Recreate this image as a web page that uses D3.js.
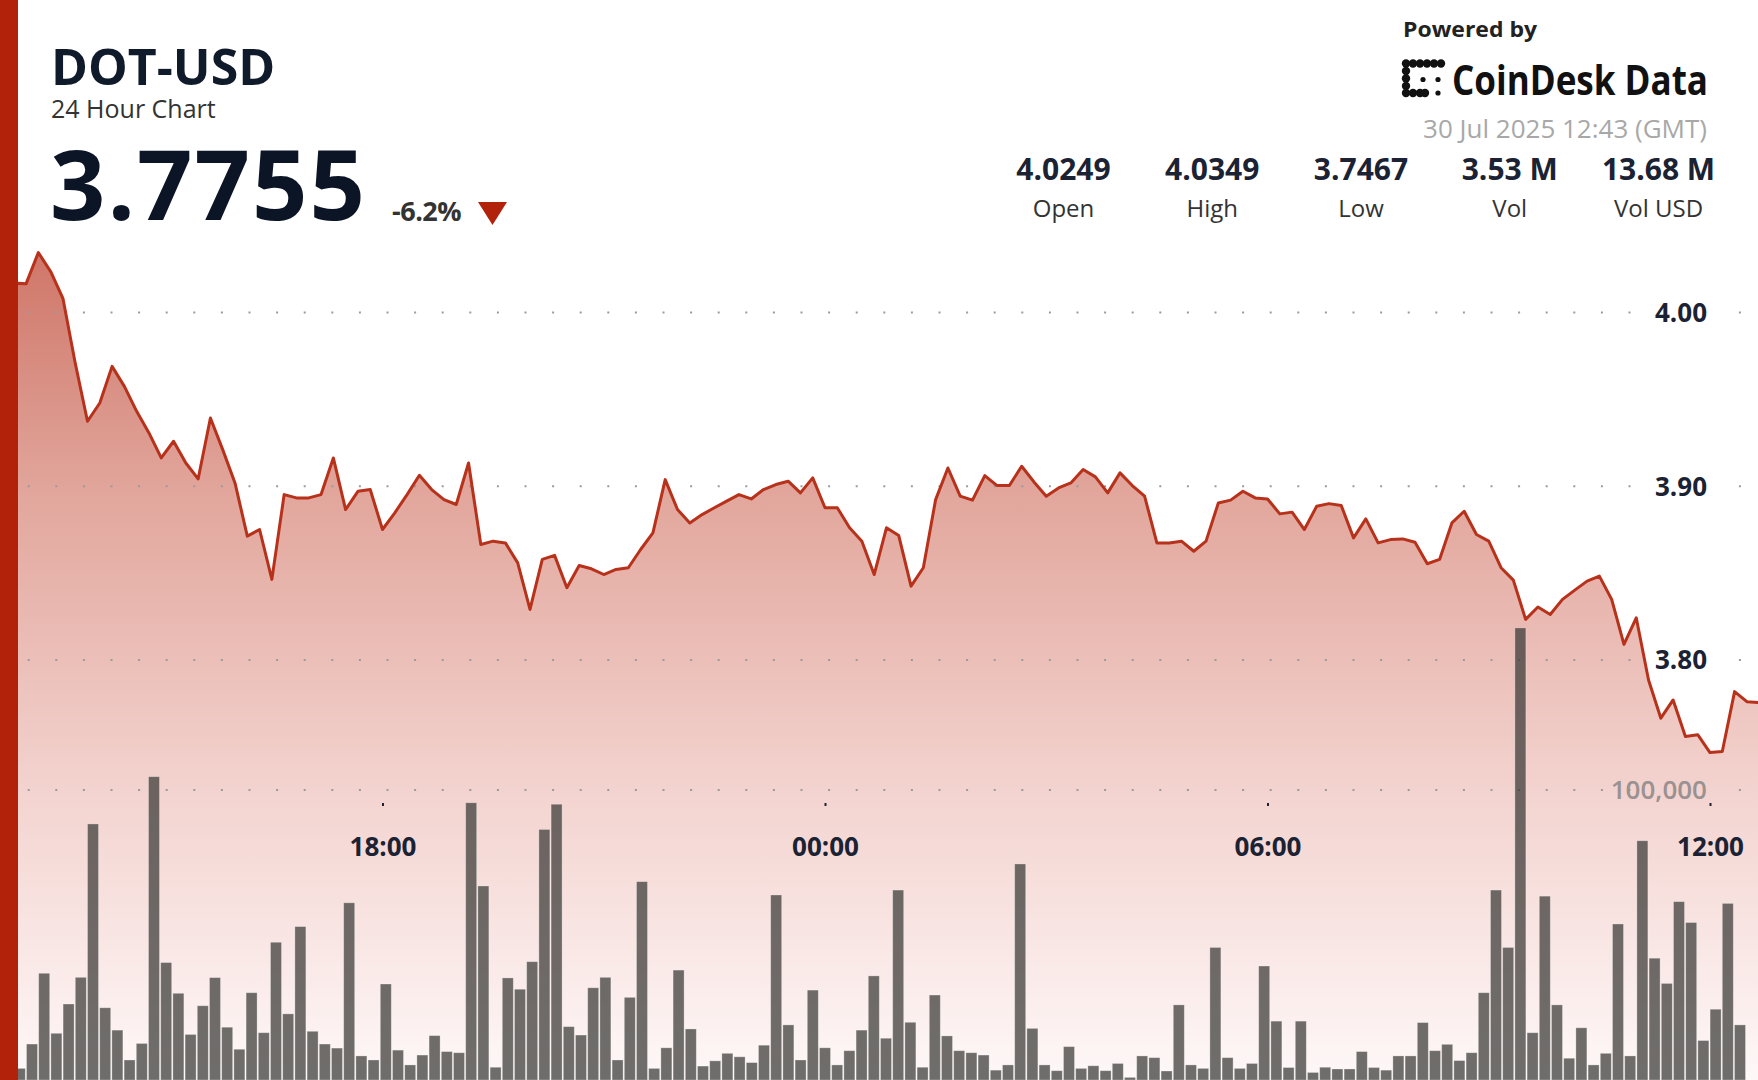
<!DOCTYPE html>
<html><head><meta charset="utf-8">
<script src="https://cdn.jsdelivr.net/npm/d3@7"></script>
<style>html,body{margin:0;padding:0;background:#fff;overflow:hidden}svg{display:block;font-family:"Open Sans","Noto Sans",sans-serif}</style>
</head><body><svg id="c" width="1758" height="1080"></svg>
<script>
// ---------- DATA ----------
const startTime = "2025-07-29T13:00:00Z";   // first sample, 10-minute steps
const stepMinutes = 10;
const prices = [
4.0169,4.0165,4.0345,4.0236,4.0082,3.9709,3.9374,3.9479,3.9690,3.9575,3.9431,3.9307,
3.9163,3.9259,3.9134,3.9042,3.9393,3.9211,3.9019,3.8713,3.8751,3.8464,3.8952,3.8933,
3.8933,3.8952,3.9163,3.8866,3.8971,3.8981,3.8751,3.8847,3.8952,3.9063,3.8981,3.8923,
3.8895,3.9134,3.8665,3.8684,3.8674,3.8559,3.8291,3.8579,3.8602,3.8416,3.8544,3.8525,
3.8492,3.8521,3.8531,3.8636,3.8732,3.9038,3.8866,3.8789,3.8837,3.8876,3.8914,3.8952,
3.8927,3.8981,3.9010,3.9029,3.8962,3.9048,3.8876,3.8876,3.8761,3.8684,3.8492,3.8761,
3.8716,3.8425,3.8531,3.8923,3.9105,3.8943,3.8920,3.9061,3.9004,3.9004,3.9115,3.9025,
3.8943,3.8990,3.9019,3.9096,3.9054,3.8962,3.9077,3.9004,3.8943,3.8674,3.8674,3.8684,
3.8626,3.8684,3.8904,3.8920,3.8971,3.8933,3.8927,3.8841,3.8851,3.8751,3.8885,3.8900,
3.8889,3.8703,3.8812,3.8674,3.8693,3.8697,3.8678,3.8554,3.8579,3.8789,3.8856,3.8722,
3.8684,3.8531,3.8460,3.8234,3.8305,3.8262,3.8349,3.8402,3.8454,3.8483,3.8349,3.8090,
3.8243,3.7885,3.7665,3.7770,3.7560,3.7570,3.7467,3.7473,3.7818,3.7760,3.7755];
// one volume bar per 10-minute slot, 13:00 .. 12:30
const volumes = [
4000,12400,36800,16100,26200,35400,88300,24900,17200,6900,12600,104600,
40500,29900,15700,25600,35300,18200,10600,30100,16300,47500,22800,52900,
16800,12400,11000,61100,8300,6900,33100,10300,5200,8600,15300,9800,
9400,95600,66900,4400,35200,31300,40800,86400,95100,18400,15500,31800,
35400,6900,28500,68400,4000,11100,37900,17600,4800,6600,9200,8000,
6000,12000,63800,19000,6900,31000,11100,5200,10100,17200,35900,14400,
65500,19900,4400,29300,15200,10100,9400,8600,3400,5200,74500,17800,
5200,3200,11500,4000,4900,3200,5700,900,8300,7700,3100,25900,
5200,4000,45700,7700,4000,5700,39300,20300,4300,20300,2600,4400,
3800,3800,9800,4300,3400,8300,8300,19800,10100,12300,6700,9400,
30100,65500,45700,155900,16300,63400,25900,7500,18000,5200,9200,53800,
8300,82500,42000,33300,61500,54300,13600,24400,60900,19000];
const priceTicks = [4.00, 3.90, 3.80];
const volumeTicks = [100000];
const timeTicks = ["2025-07-29T18:00:00Z","2025-07-30T00:00:00Z","2025-07-30T06:00:00Z","2025-07-30T12:00:00Z"];
const statValues = ["4.0249","4.0349","3.7467","3.53 M","13.68 M"];
const statLabels = ["Open","High","Low","Vol","Vol USD"];
const symbol = "DOT-USD";
const subtitle = "24 Hour Chart";
const lastPrice = "3.7755";
const changePct = "-6.2%";
const stamp = "30 Jul 2025 12:43 (GMT)";

// ---------- SETUP ----------
const W = 1758, H = 1080;
const svg = d3.select("#c");
const t0 = new Date(startTime).getTime();
const tOf = i => new Date(t0 + i * stepMinutes * 60000);
const pData = prices.map((p, i) => ({t: tOf(i), p}));
const vData = volumes.map((v, i) => ({k: tOf(i).toISOString(), v}));

const x = d3.scaleUtc()
  .domain([new Date("2025-07-29T18:00:00Z"), new Date("2025-07-30T12:00:00Z")])
  .range([382.5, 1710]);
const y = d3.scaleLinear().domain([3.80, 4.00]).range([660, 312.5]);
const yv = d3.scaleLinear().domain([0, 100000]).range([H, 790]);
const barStep = 12.2, barPad = 0.1, barStart = 14.3 - barStep * barPad / 2;
const xb = d3.scaleBand().domain(vData.map(d => d.k))
  .range([barStart, barStart + barStep * vData.length])
  .paddingInner(barPad).paddingOuter(barPad / 2);

const defs = svg.append("defs");
const grad = defs.append("linearGradient").attr("id", "ag")
  .attr("gradientUnits", "userSpaceOnUse").attr("x1", 0).attr("y1", 250).attr("x2", 0).attr("y2", H);
[[0, "rgb(207,118,104)"], [0.3, "rgb(226,167,157)"], [0.65, "rgb(243,211,207)"], [1, "rgb(254,248,248)"]]
  .forEach(([o, c]) => grad.append("stop").attr("offset", o).attr("stop-color", c));
defs.append("clipPath").attr("id", "cp").append("rect").attr("x", 18).attr("y", 0).attr("width", W).attr("height", H);

const chart = svg.append("g").attr("clip-path", "url(#cp)");

// area
chart.append("path").datum(pData)
  .attr("fill", "url(#ag)")
  .attr("d", d3.area().x(d => x(d.t)).y0(H).y1(d => y(d.p)));

// dotted gridlines
const dotXs = d3.range(28.7, W, 27.6).filter(v => v < 1645 || v > 1735);
const gridYs = priceTicks.map(v => y(v)).concat(volumeTicks.map(v => yv(v)));
gridYs.forEach(gy => {
  chart.append("g").selectAll("rect").data(dotXs).join("rect")
    .attr("x", d => d - 1).attr("y", gy - 1).attr("width", 2).attr("height", 2)
    .attr("fill", "#9b9b9b");
});

// volume bars
chart.append("g").selectAll("rect").data(vData).join("rect")
  .attr("x", d => xb(d.k))
  .attr("width", xb.bandwidth())
  .attr("y", d => yv(d.v))
  .attr("height", d => H - yv(d.v))
  .attr("fill", "rgba(55,55,52,0.72)")
  .attr("stroke", "rgba(255,255,255,0.35)").attr("stroke-width", 0.8);

// price line
chart.append("path").datum(pData)
  .attr("fill", "none").attr("stroke", "#b8311b").attr("stroke-width", 3)
  .attr("stroke-linejoin", "round")
  .attr("d", d3.line().x(d => x(d.t)).y(d => y(d.p)));

// y labels
svg.append("g").selectAll("text").data(priceTicks).join("text")
  .attr("x", 1707).attr("y", d => y(d)).attr("dy", "0.36em")
  .attr("text-anchor", "end").attr("font-size", 26).attr("font-weight", 700)
  .attr("fill", "#1a2233").text(d => d.toFixed(2));
svg.append("g").selectAll("text").data(volumeTicks).join("text")
  .attr("x", 1707).attr("y", d => yv(d)).attr("dy", "0.36em")
  .attr("text-anchor", "end").attr("font-size", 26).attr("font-weight", 600)
  .attr("fill", "#9a9190").text(d => d3.format(",")(d));

// x axis
const xa = svg.append("g").attr("transform", "translate(0,803)")
  .call(d3.axisBottom(x).tickValues(timeTicks.map(s => new Date(s)))
    .tickFormat(d3.utcFormat("%H:%M")).tickSize(3).tickPadding(32));
xa.select(".domain").remove();
xa.selectAll(".tick line").attr("stroke", "#1a2233").attr("stroke-width", 2);
xa.selectAll(".tick text").attr("font-size", 26).attr("font-weight", 700)
  .attr("fill", "#1a2233").attr("font-family", "'Open Sans',sans-serif");

// left red bar
svg.append("rect").attr("x", 0).attr("y", 0).attr("width", 18).attr("height", H).attr("fill", "#b2220a");

// ---------- HEADER ----------
svg.append("text").attr("x", 51).attr("y", 85).attr("font-size", 50).attr("font-weight", 700)
  .attr("fill", "#0f1a2b").text(symbol);
svg.append("text").attr("x", 51).attr("y", 118).attr("font-size", 25)
  .attr("fill", "#333").text(subtitle);
svg.append("text").attr("x", 50).attr("y", 220).attr("font-size", 97).attr("font-weight", 700)
  .attr("letter-spacing", 2).attr("fill", "#0b1526").text(lastPrice);
svg.append("text").attr("x", 392).attr("y", 221).attr("font-size", 27).attr("font-weight", 700)
  .attr("letter-spacing", -0.5).attr("fill", "#333").text(changePct);
svg.append("path").attr("d", "M478,202 L507,202 L492.5,225 Z").attr("fill", "#b2220a");

// powered by
svg.append("text").attr("x", 1403).attr("y", 37).attr("font-size", 22).attr("font-weight", 700)
  .attr("fill", "#222").attr("textLength", 134).attr("lengthAdjust", "spacingAndGlyphs").text("Powered by");
const logo = svg.append("g").attr("fill", "#111");
[[1406,63.5],[1413,63.5],[1420,63.5],[1427,63.5],[1434,63.5],[1441,63.5],
 [1406,71],[1406,78.5],[1406,86],[1406,93],[1413,93],[1420,93],[1425,93]]
  .forEach(([cx, cy]) => logo.append("circle").attr("cx", cx).attr("cy", cy).attr("r", 4.2));
[[1423,79.5],[1438,79.5],[1438,93]]
  .forEach(([cx, cy]) => logo.append("circle").attr("cx", cx).attr("cy", cy).attr("r", 2.6));
svg.append("text").attr("x", 1452).attr("y", 95).attr("font-size", 41).attr("font-weight", 700)
  .attr("fill", "#111").attr("textLength", 256).attr("lengthAdjust", "spacingAndGlyphs").text("CoinDesk Data");
svg.append("text").attr("x", 1707).attr("y", 138).attr("text-anchor", "end").attr("font-size", 26)
  .attr("fill", "#a8a8a8").text(stamp);

// stats
const statX = d3.scalePoint().domain(statLabels).range([1063.5, 1658.5]);
svg.append("g").selectAll("text").data(statValues).join("text")
  .attr("x", (d, i) => statX(statLabels[i])).attr("y", 180).attr("text-anchor", "middle")
  .attr("font-size", 30).attr("font-weight", 700).attr("fill", "#1a2233").text(d => d);
svg.append("g").selectAll("text").data(statLabels).join("text")
  .attr("x", d => statX(d)).attr("y", 217).attr("text-anchor", "middle")
  .attr("font-size", 24).attr("fill", "#333").text(d => d);
</script></body></html>
